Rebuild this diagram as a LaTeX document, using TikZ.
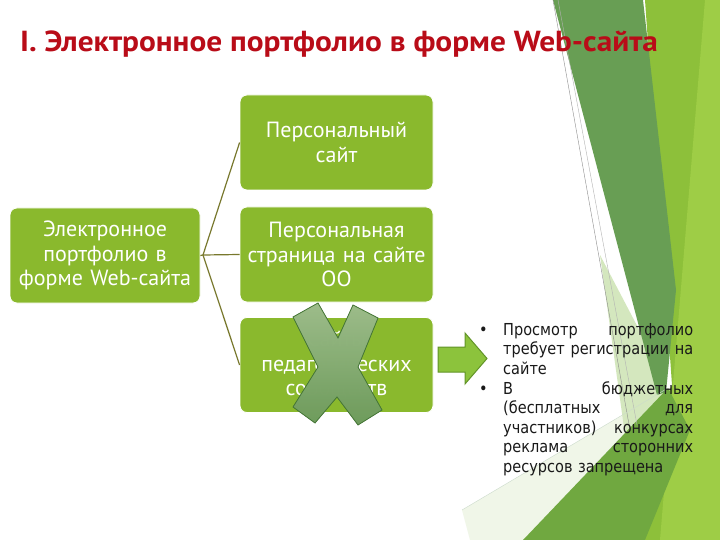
\documentclass[tikz,border=0pt]{standalone}
\usepackage{fontspec}
\setmainfont{PT Sans}
\newfontfamily\titlefont{PT Sans}[FakeStretch=1.08]
\newfontfamily\bodyfont{DejaVu Sans}[FakeStretch=0.88]
\newcommand\jline[1]{\leavevmode\hbox to 190pt{#1}}
\definecolor{boxgreen}{RGB}{138,185,45}
\definecolor{titlered}{RGB}{185,12,24}
\definecolor{connolive}{RGB}{120,120,45}
\definecolor{bgbright}{RGB}{141,192,58}
\definecolor{bglight}{RGB}{158,205,70}
\definecolor{bgmed}{RGB}{112,168,64}
\definecolor{bgdark}{RGB}{104,158,84}
\definecolor{bgpale}{RGB}{212,231,190}
\definecolor{bgfaint}{RGB}{240,246,232}
\definecolor{xfillA}{RGB}{165,198,145}
\definecolor{xfillB}{RGB}{115,163,96}
\definecolor{xdraw}{RGB}{70,120,55}
\definecolor{arrfill}{RGB}{140,195,60}
\definecolor{arrdraw}{RGB}{98,148,40}
\definecolor{textdark}{RGB}{25,25,25}
\begin{document}
\begin{tikzpicture}[x=1pt,y=-1pt,
  gbox/.style={draw=white, line width=0.8pt, fill=boxgreen, rounded corners=7pt,
    text=white, font=\fontsize{22}{24.5}\selectfont, align=center,
    minimum width=193pt, minimum height=95pt, inner sep=2pt, text width=189pt},
  conn/.style={draw=connolive, line width=1.2pt},
  btext/.style={font=\bodyfont\fontsize{16.5}{19.6}\selectfont, text=textdark,
    inner sep=0pt, anchor=base west, text width=190pt, align=left}]
\useasboundingbox (0,0) rectangle (720,540);
\fill[white] (0,0) rectangle (720,540);
% background facets
\fill[bgbright] (645,0) -- (720,0) -- (720,540) -- (600,540) -- (672,385) -- cycle;
\fill[bglight] (705,0) -- (720,0) -- (720,540) -- (660,540) -- cycle;
\fill[bgfaint] (462,510) -- (668,388) -- (523,540) -- (470,540) -- cycle;
\fill[bgpale] (600,255) -- (655,360) -- (664,392) -- (645,430) -- (625,435) -- cycle;
\fill[bgmed] (523,540) -- (668,388) -- (690,430) -- (645,540) -- cycle;
\fill[bgdark] (553,0) -- (643,0) -- (676,290) -- (666,392) -- (657,395) -- cycle;
\draw[black!45, line width=0.4pt] (553,0) -- (630,430);
\draw[black!30, line width=0.4pt] (558,0) -- (637,425);
\draw[green!30!black!20, line width=0.4pt] (462,510) -- (668,388);
% title
\node[anchor=base west, inner sep=0pt, text=titlered,
  font=\titlefont\bfseries\fontsize{29}{31}\selectfont] (title) at (20,52)
  {I. Электронное портфолио в форме Web-сайта};
% boxes
\node[gbox, minimum width=190pt, text width=186pt] (L) at (105,255.5)
  {Электронное\\портфолио в\\форме Web-сайта};
\node[gbox] (T) at (336.5,142.5) {Персональный\\сайт};
\node[gbox] (M) at (336.5,254.5) {Персональная\\страница на сайте\\ОО};
\node[gbox] (B) at (336.5,365) {Сайты\\педагогических\\сообществ};
% connectors
\coordinate (hub) at (203,255);
\draw[conn] (L.east) -- (hub);
\draw[conn] (hub) -- (T.west);
\draw[conn] (hub) -- (M.west);
\draw[conn] (hub) -- (B.west);
% cross
\filldraw[top color=xfillA, bottom color=xfillB, draw=xdraw, line width=0.8pt, fill opacity=0.95]
  (318,303) -- (338,338) -- (353,305) -- (378,318) -- (358,367) -- (382,410)
  -- (358,425) -- (337,397) -- (315,423) -- (293,407) -- (318,367) -- (293,317) -- cycle;
% block arrow
\filldraw[fill=arrfill, draw=arrdraw, line width=1pt]
  (438,347) -- (465,347) -- (465,333) -- (487,358.5) -- (465,384) -- (465,372) -- (438,372) -- cycle;
% bullet list
\node[btext, text width=20pt] (b1) at (479,335) {•};
\node[btext] (t1) at (503,335)
  {\jline{Просмотр\hfill портфолио}\\
   \jline{требует\hfill регистрации\hfill на}\\
   сайте};
\node[btext, text width=20pt] (b2) at (479,394) {•};
\node[btext] (t2) at (503,394)
  {\jline{В\hfill бюджетных}\\
   \jline{(бесплатных\hfill для}\\
   \jline{участников)\hfill конкурсах}\\
   \jline{реклама\hfill сторонних}\\
   ресурсов запрещена};
\end{tikzpicture}
\end{document}
